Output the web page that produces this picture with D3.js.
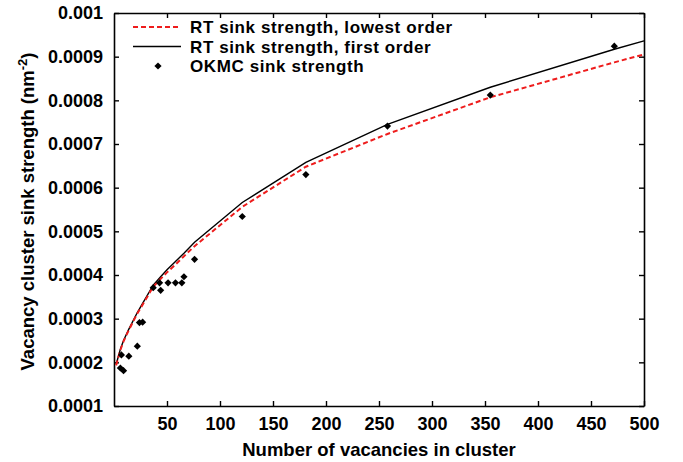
<!DOCTYPE html>
<html lang="en">
  <head>
    <meta charset="UTF-8" />
    <title>Vacancy cluster sink strength</title>
    <script src="https://d3js.org/d3.v7.min.js"></script>
    <style>
      body { margin: 0; background: #fff; }
      text { font-family: "Liberation Sans", Arial, sans-serif; font-weight: bold; }
    </style>
  </head>
  <body>
    <div id="graph"></div>
    <script>
      // cluster sizes where curves are evaluated
      const curveN = [2, 6, 9, 14, 22, 27, 37, 44, 50, 58, 66, 76, 121, 181, 258, 355, 472, 500];
      const lowestOrder = [0.000193, 0.000228, 0.000248, 0.000274, 0.000312, 0.000332, 0.000373, 0.000391,
        0.000406, 0.000424, 0.000443, 0.000466, 0.000556, 0.000648, 0.000723, 0.000807, 0.000887, 0.000905];
      const firstOrder = [0.000195, 0.00023, 0.00025, 0.000276, 0.000314, 0.000335, 0.000377, 0.000396,
        0.000412, 0.000431, 0.00045, 0.000475, 0.000566, 0.000658, 0.000745, 0.00083, 0.000917, 0.000936];

      // OKMC results
      const okmcN = [6, 9, 7, 14, 22, 24, 27, 37, 43, 44, 51, 58, 64, 66, 76, 121, 181, 258, 355, 472];
      const okmcK = [0.000187, 0.000181, 0.000217, 0.000214, 0.000237, 0.000291, 0.000292, 0.000371,
        0.000382, 0.000365, 0.000382, 0.000382, 0.000382, 0.000396, 0.000436, 0.000534, 0.00063,
        0.000741, 0.000812, 0.000924];

      const xTicks = [50, 100, 150, 200, 250, 300, 350, 400, 450, 500];
      const yTicks = [0.0001, 0.0002, 0.0003, 0.0004, 0.0005, 0.0006, 0.0007, 0.0008, 0.0009, 0.001];

      var margin = { top: 13, right: 39, bottom: 56, left: 114 },
        width = 683 - margin.left - margin.right,
        height = 462 - margin.top - margin.bottom;

      var svg = d3
        .select("#graph")
        .append("svg")
        .attr("width", 683)
        .attr("height", 462)
        .append("g")
        .attr("transform", "translate(" + margin.left + "," + margin.top + ")");

      const x = d3.scaleLinear().domain([0, 500]).range([0, width]);
      const y = d3.scaleLinear().domain([0.0001, 0.001]).range([height, 0]);

      // axes, ticks pointing inward on all four sides
      function styleAxis(g) {
        g.select(".domain").attr("stroke", "#000").attr("stroke-width", 1.6);
        g.selectAll(".tick line").attr("stroke", "#000").attr("stroke-width", 1.4);
        g.selectAll(".tick text").attr("fill", "#000").style("font-size", "18px");
      }

      svg.append("g")
        .attr("transform", `translate(0,${height})`)
        .call(d3.axisBottom(x).tickValues(xTicks).tickSizeInner(-5).tickSizeOuter(0).tickPadding(11))
        .call(styleAxis);
      svg.append("g")
        .call(d3.axisTop(x).tickValues(xTicks).tickSizeInner(-5).tickSizeOuter(0).tickFormat(""))
        .call(styleAxis);
      svg.append("g")
        .call(d3.axisLeft(y).tickValues(yTicks).tickSizeInner(-5).tickSizeOuter(0).tickPadding(11)
          .tickFormat(d3.format("")))
        .call(styleAxis);
      svg.append("g")
        .attr("transform", `translate(${width},0)`)
        .call(d3.axisRight(y).tickValues(yTicks).tickSizeInner(-5).tickSizeOuter(0).tickFormat(""))
        .call(styleAxis);

      // axis titles
      svg.append("text")
        .attr("x", width / 2)
        .attr("y", height + 50)
        .attr("text-anchor", "middle")
        .style("font-size", "18.5px")
        .text("Number of vacancies in cluster");

      const yTitle = svg.append("text")
        .attr("transform", `translate(-80,${height / 2 + 2}) rotate(-90)`)
        .attr("text-anchor", "middle")
        .style("font-size", "18.5px");
      yTitle.append("tspan").text("Vacancy cluster sink strength (nm");
      yTitle.append("tspan").attr("dy", -7).style("font-size", "13px").text("-2");
      yTitle.append("tspan").attr("dy", 7).text(")");

      const line = d3.line().x((d) => x(d[0])).y((d) => y(d[1]));

      svg.append("path")
        .datum(curveN.map((n, i) => [n, firstOrder[i]]))
        .attr("fill", "none")
        .attr("stroke", "#000")
        .attr("stroke-width", 1.4)
        .attr("d", line);

      svg.append("path")
        .datum(curveN.map((n, i) => [n, lowestOrder[i]]))
        .attr("fill", "none")
        .attr("stroke", "#ee1c1c")
        .attr("stroke-width", 2)
        .attr("stroke-dasharray", "5,3")
        .attr("d", line);

      const diamond = d3.symbol().type(d3.symbolSquare).size(26);
      svg.selectAll(".pt")
        .data(okmcN.map((n, i) => [n, okmcK[i]]))
        .enter()
        .append("path")
        .attr("class", "pt")
        .attr("d", diamond)
        .attr("fill", "#000")
        .attr("transform", (d) => `translate(${x(d[0])},${y(d[1])}) rotate(45)`);

      // legend
      const legend = svg.append("g").attr("transform", "translate(19,14)");
      const rows = [
        { label: "RT sink strength, lowest order", kind: "dash" },
        { label: "RT sink strength, first order", kind: "line" },
        { label: "OKMC sink strength", kind: "point" },
      ];
      rows.forEach((r, i) => {
        const g = legend.append("g").attr("transform", `translate(0,${i * 19.5})`);
        if (r.kind === "dash") {
          g.append("line").attr("x1", 0).attr("x2", 48).attr("y1", 0).attr("y2", 0)
            .attr("stroke", "#ee1c1c").attr("stroke-width", 2).attr("stroke-dasharray", "5,3");
        } else if (r.kind === "line") {
          g.append("line").attr("x1", 0).attr("x2", 48).attr("y1", 0).attr("y2", 0)
            .attr("stroke", "#000").attr("stroke-width", 1.4);
        } else {
          g.append("path").attr("d", diamond).attr("fill", "#000")
            .attr("transform", "translate(25,0) rotate(45)");
        }
        g.append("text")
          .attr("x", 57)
          .attr("y", 6)
          .style("font-size", "17px")
          .style("letter-spacing", "0.6px")
          .text(r.label);
      });
    </script>
  </body>
</html>
